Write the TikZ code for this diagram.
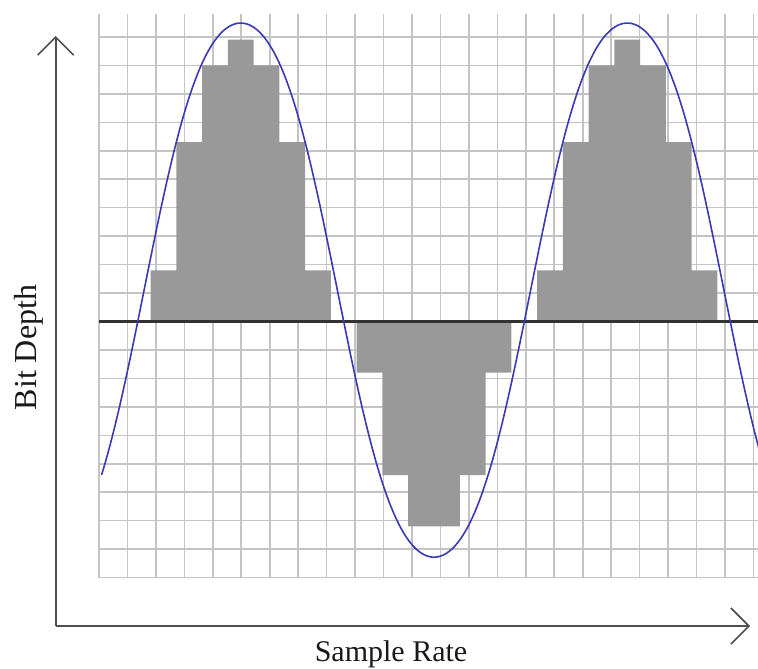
\documentclass[tikz,border=0pt]{standalone}
\usepackage{fontspec}
\setmainfont{Liberation Serif}
\usetikzlibrary{arrows.meta}
\definecolor{gridc}{RGB}{196,196,196}
\definecolor{fillc}{RGB}{153,153,153}
\definecolor{wavec}{RGB}{58,58,184}
\definecolor{axisc}{RGB}{80,80,80}
\definecolor{midc}{RGB}{50,50,50}
\definecolor{textc}{RGB}{25,25,25}
\begin{document}
\begin{tikzpicture}[x=1pt,y=1pt,
  gridline/.style={draw=gridc,line width=1.6pt},
  level/.style={fill=fillc},
  wave/.style={draw=wavec,line width=1.6pt},
  midline/.style={draw=midc,line width=2.2pt},
  axisline/.style={draw=axisc,line width=1.6pt,-{Straight Barb[length=18pt,width=36pt,line width=1.6pt]}},
  lbl/.style={text=textc,inner sep=0pt}]
\useasboundingbox (0,0) rectangle (758,-669);
\clip (0,0) rectangle (758,-669);
\begin{scope}[shift={(99,-321.5)},x=25.77pt,y=25.62pt]
  \draw[gridline] (0,-10) grid (25.6,12);
  % quantised levels
  \fill[level] (2,0) -- (2,2) -- (3,2) -- (3,7) -- (4,7) -- (4,10) -- (5,10) -- (5,11)
     -- (6,11) -- (6,10) -- (7,10) -- (7,7) -- (8,7) -- (8,2) -- (9,2) -- (9,0) -- cycle;
  \fill[level] (17,0) -- (17,2) -- (18,2) -- (18,7) -- (19,7) -- (19,10) -- (20,10) -- (20,11)
     -- (21,11) -- (21,10) -- (22,10) -- (22,7) -- (23,7) -- (23,2) -- (24,2) -- (24,0) -- cycle;
  \fill[level] (10,0) -- (10,-2) -- (11,-2) -- (11,-6) -- (12,-6) -- (12,-8) -- (14,-8)
     -- (14,-6) -- (15,-6) -- (15,-2) -- (16,-2) -- (16,0) -- cycle;
  % zero line
  \coordinate (m0) at (0,0);
  \coordinate (m1) at (25.6,0);
  \draw[midline] (m0) -- (m1);
  % analogue wave
  \draw[wave,line join=round] plot[domain=0.1:25.7,samples=240,smooth]
     (\x,{1.225+10.8*cos(24*(\x-5.5))-0.375*cos(72*(\x-5.5))});
\end{scope}
% axes
\coordinate (origin) at (55.7,-626);
\coordinate (ytip) at (55.7,-36);
\coordinate (xtip) at (750,-626);
\draw[axisline] (origin) -- (ytip);
\draw[axisline] (origin) -- (xtip);
% labels
\node[lbl,font=\fontsize{30}{36}\selectfont,anchor=base] (xlabel) at (391,-661.5) {Sample Rate};
\node[lbl,font=\fontsize{32}{38}\selectfont,anchor=base,rotate=90] (ylabel) at (36,-347.5) {Bit Depth};
\end{tikzpicture}
\end{document}
